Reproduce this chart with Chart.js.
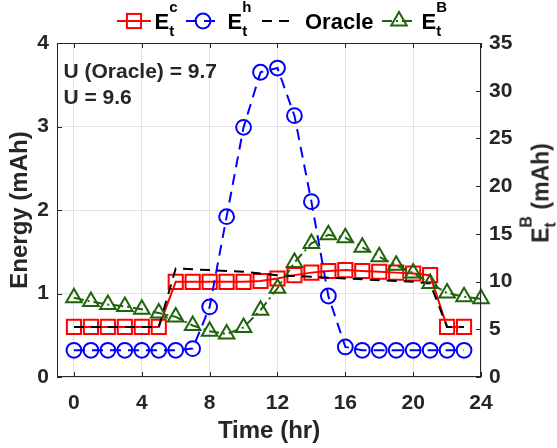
<!DOCTYPE html>
<html><head><meta charset="utf-8">
<script src="https://cdn.jsdelivr.net/npm/chart.js@4"></script>
<style>
body{margin:0;background:#fff}
#wrap{position:relative;width:557px;height:448px;font-family:"Liberation Sans",Arial,sans-serif;font-weight:bold;overflow:hidden}
canvas{position:absolute;left:0;top:0}
.ov{position:absolute;white-space:nowrap;line-height:1;color:#000}
.ss{position:relative}
.sp{position:relative}
.sb{position:absolute;left:0}
svg{position:absolute;overflow:visible}
</style></head><body>
<div id="wrap"><canvas id="c" width="557" height="448"></canvas></div>
<script>
// ---- data ----
const hours  = [0,1,2,3,4,5,6,7,8,9,10,11,12,13,14,15,16,17,18,19,20,21,22,23];
const hoursB = [0,1,2,3,4,5,6,7,8,9,10,11,12,13,14,15,16,17,18,19,20,21,22,23,24];
const Ec     = [0.60,0.60,0.60,0.60,0.60,0.60,1.14,1.14,1.14,1.14,1.14,1.15,1.18,1.22,1.25,1.27,1.28,1.27,1.26,1.25,1.24,1.22,0.60,0.60];
const Eh     = [0.32,0.32,0.32,0.32,0.32,0.32,0.32,0.34,0.84,1.92,2.99,3.65,3.70,3.13,2.10,0.97,0.36,0.32,0.32,0.32,0.32,0.32,0.32,0.32];
const Oracle = [0.60,0.60,0.60,0.60,0.60,0.60,1.30,1.29,1.28,1.27,1.26,1.24,1.22,1.21,1.20,1.19,1.18,1.17,1.16,1.15,1.14,1.12,0.60,0.60];
const EB     = [8.3,7.9,7.6,7.4,7.1,6.7,6.3,5.4,4.8,4.5,5.2,7.0,9.3,12.0,14.0,14.9,14.6,13.6,12.6,11.7,10.9,9.8,8.8,8.4,8.2];
const xTicks  = [0,4,8,12,16,20,24];
const yTicks  = [0,1,2,3,4];
const y1Ticks = [0,5,10,15,20,25,30,35];
const notes = ['U (Oracle) = 9.7','U = 9.6'];
const legendLabels = [
  {base:'E', sup:'c', sub:'t'},
  {base:'E', sup:'h', sub:'t'},
  {base:'Oracle'},
  {base:'E', sup:'B', sub:'t'}
];
const rightTitle = {base:'E', sup:'B', sub:'t', rest:' (mAh)'};

// ---- styles ----
const FONT = '"Liberation Sans", Arial, sans-serif';
const TXT = '#262626';
const GREEN = 'rgb(30,100,10)';
const pts = (xs, ys) => ys.map((v,i)=>({x:xs[i], y:v}));

const datasets = [
  {label:'E_t^c', data:pts(hours,Ec), yAxisID:'y', borderColor:'#ff0000', borderWidth:2, borderDash:[],
   pointStyle:'rect', pointRadius:10, pointBorderWidth:2, pointBorderColor:'#ff0000', pointBackgroundColor:'rgba(0,0,0,0)', order:4, _m:'rect'},
  {label:'E_t^h', data:pts(hours,Eh), yAxisID:'y', borderColor:'#0000ff', borderWidth:2, borderDash:[11,7],
   pointStyle:'circle', pointRadius:7.4, pointBorderWidth:2, pointBorderColor:'#0000ff', pointBackgroundColor:'rgba(0,0,0,0)', order:3, _m:'circle'},
  {label:'Oracle', data:pts(hours,Oracle), yAxisID:'y', borderColor:'#000000', borderWidth:2, borderDash:[10,7],
   pointRadius:0, order:2, _m:null},
  {label:'E_t^B', data:pts(hoursB,EB), yAxisID:'y1', borderColor:GREEN, borderWidth:2, borderDash:[10,4,2,4],
   pointStyle:'triangle', pointRadius:9, pointBorderWidth:2, pointBorderColor:GREEN, pointBackgroundColor:'rgba(0,0,0,0)', order:1, clip:false, _m:'triangle'}
];
datasets.forEach(d=>{d.fill=false; d.tension=0; d.pointHoverRadius=d.pointRadius;});

const frame = {
  id:'frame',
  afterDraw(chart){
    const {ctx, chartArea:a, scales} = chart;
    ctx.save();
    ctx.strokeStyle = TXT; ctx.lineWidth = 1; ctx.setLineDash([]);
    ctx.beginPath();
    const L = 5;
    scales.x.ticks.forEach(t=>{
      const p = Math.round(scales.x.getPixelForValue(t.value))+0.5;
      ctx.moveTo(p,a.bottom); ctx.lineTo(p,a.bottom-L);
      ctx.moveTo(p,a.top); ctx.lineTo(p,a.top+L);
    });
    scales.y.ticks.forEach(t=>{
      const p = Math.round(scales.y.getPixelForValue(t.value))+0.5;
      ctx.moveTo(a.left,p); ctx.lineTo(a.left+L,p);
    });
    scales.y1.ticks.forEach(t=>{
      const p = Math.round(scales.y1.getPixelForValue(t.value))+0.5;
      ctx.moveTo(a.right,p); ctx.lineTo(a.right-L,p);
    });
    ctx.stroke();
    ctx.strokeRect(a.left+0.5, a.top+0.5, a.right-a.left-1, a.bottom-a.top-1);
    ctx.restore();
  }
};

const tickFont = {family:FONT, size:21, weight:'bold'};
const titleFont = {family:FONT, size:24, weight:'bold'};
const gridColor = '#e2e2e2';

const chart = new Chart(document.getElementById('c'), {
  type:'line',
  data:{datasets},
  plugins:[frame],
  options:{
    responsive:false, animation:false,
    layout:{padding:{top:43,left:0,right:0,bottom:0}},
    plugins:{legend:{display:false}, tooltip:{enabled:false}},
    scales:{
      x:{type:'linear', position:'bottom', min:-1, max:24,
         afterBuildTicks:s=>{s.ticks = xTicks.map(v=>({value:v}));},
         afterFit:s=>{s.height = 71;},
         grid:{color:gridColor, drawTicks:false}, border:{display:false},
         ticks:{autoSkip:false, maxRotation:0, padding:14, color:TXT, font:tickFont},
         title:{display:true, text:'Time (hr)', color:TXT, font:titleFont, padding:{top:0,bottom:2}}},
      y:{type:'linear', position:'left', min:0, max:4,
         afterBuildTicks:s=>{s.ticks = yTicks.map(v=>({value:v}));},
         afterFit:s=>{s.width = 57;},
         grid:{color:gridColor, drawTicks:false}, border:{display:false},
         ticks:{padding:8, color:TXT, font:tickFont},
         title:{display:true, text:'Energy (mAh)', color:TXT, font:titleFont, padding:{top:6,bottom:0}}},
      y1:{type:'linear', position:'right', min:0, max:35,
         afterBuildTicks:s=>{s.ticks = y1Ticks.map(v=>({value:v}));},
         afterFit:s=>{s.width = 76;},
         grid:{drawOnChartArea:false, drawTicks:false}, border:{display:false},
         ticks:{padding:8, color:TXT, font:tickFont}}
    }
  }
});

// ---- HTML overlays (rich text) ----
const wrap = document.getElementById('wrap');
function richHTML(l, supSize, supRaise, subTop){
  let h = l.base;
  if (l.sup) h += `<span class="ss" style="font-size:${supSize}px"><span class="sp" style="top:${-supRaise}px">${l.sup}</span><span class="sb" style="top:${subTop}px">${l.sub}</span></span>`;
  if (l.rest) h += l.rest;
  return h;
}
function sampleSVG(ds, cx, cy){
  const w = 34, r = ds._m;
  let s = `<svg style="left:${cx-w/2}px;top:${cy-12}px" width="${w}" height="24">`;
  const dash = ds.borderDash.length ? `stroke-dasharray="${ds.borderDash.join(',')}"` : '';
  s += `<line x1="0" y1="12" x2="${w}" y2="12" stroke="${ds.borderColor}" stroke-width="2" ${dash}/>`;
  const c = ds.borderColor, m = w/2;
  if (r==='rect'){ const h = ds.pointRadius*Math.SQRT1_2; s += `<rect x="${m-h}" y="${12-h}" width="${2*h}" height="${2*h}" fill="none" stroke="${c}" stroke-width="2"/>`; }
  if (r==='circle'){ s += `<circle cx="${m}" cy="12" r="${ds.pointRadius}" fill="none" stroke="${c}" stroke-width="2"/>`; }
  if (r==='triangle'){ const R = ds.pointRadius; s += `<polygon points="${m},${12-R} ${m+R*0.866},${12+R/2} ${m-R*0.866},${12+R/2}" fill="none" stroke="${c}" stroke-width="2"/>`; }
  return s + '</svg>';
}
const legendPos = [{cx:134, tx:154.5},{cx:203, tx:227.5},{cx:279, tx:305},{cx:399, tx:421.5}];
let html = '';
legendLabels.forEach((l,i)=>{
  html += sampleSVG(datasets[i], legendPos[i].cx, 20.5);
  html += `<div class="ov" style="left:${legendPos[i].tx}px;top:10.5px;font-size:22px">${richHTML(l,15,17,8)}</div>`;
});
html += `<div class="ov" style="left:63.5px;top:59.5px;font-size:21px;color:${TXT}">${notes[0]}</div>`;
html += `<div class="ov" style="left:63.5px;top:85.5px;font-size:21px;color:${TXT}">${notes[1]}</div>`;
html += `<div class="ov" id="rt" style="left:541px;top:193px;font-size:23px;color:${TXT};transform:translate(-50%,-50%) rotate(-90deg)">${richHTML(rightTitle,16,17,8)}</div>`;
wrap.insertAdjacentHTML('beforeend', html);
</script>
</body></html>
